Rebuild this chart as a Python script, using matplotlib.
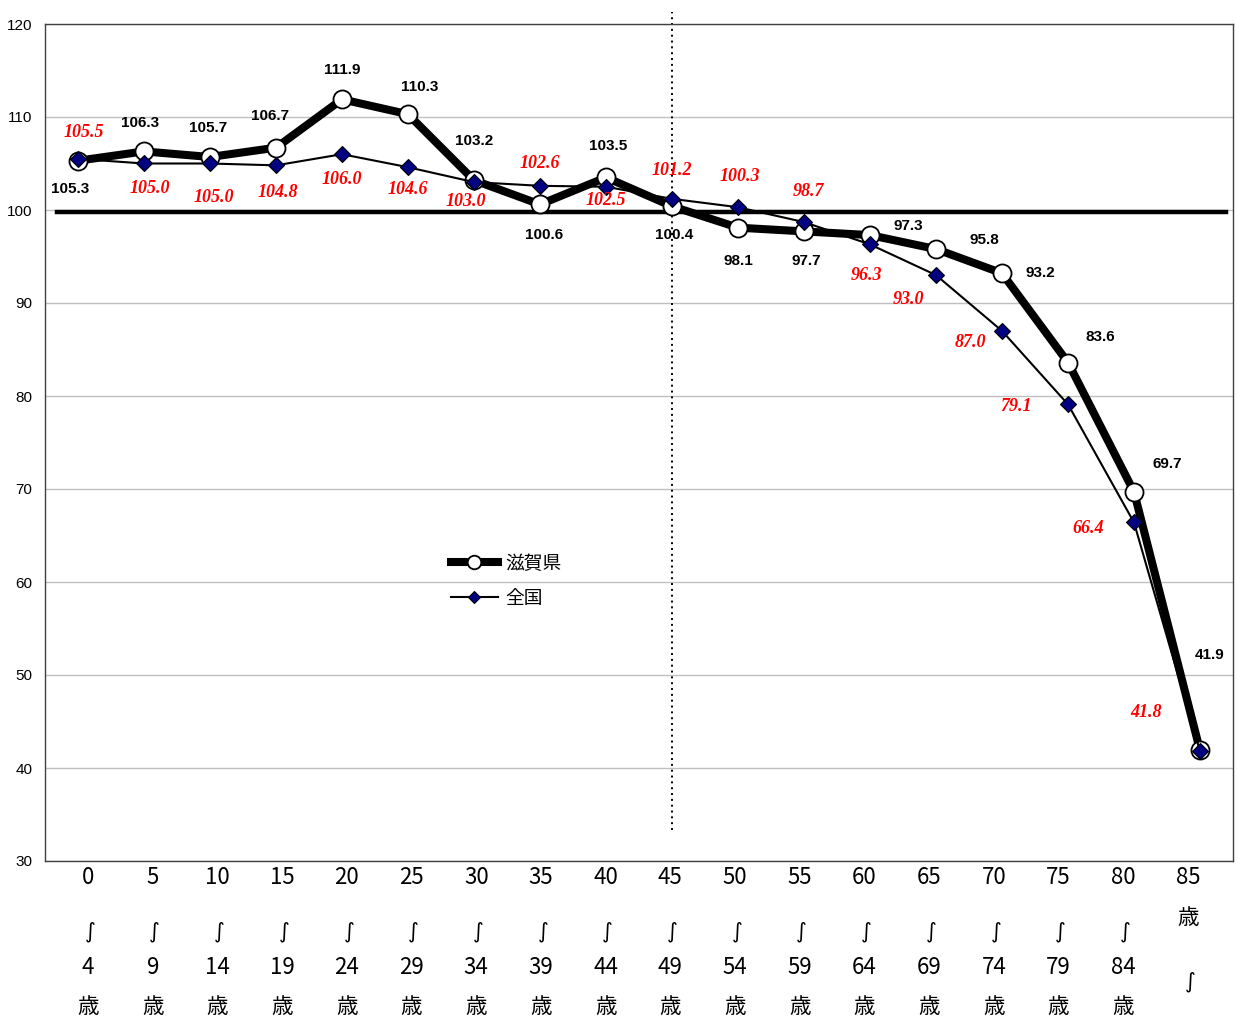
import numpy as np
import matplotlib
matplotlib.use("Agg")
import matplotlib.pyplot as plt

plt.rcParams['font.family'] = ['Liberation Sans', 'Noto Sans CJK JP']

age_start = ["0", "5", "10", "15", "20", "25", "30", "35", "40", "45",
             "50", "55", "60", "65", "70", "75", "80", "85"]
age_end = ["4", "9", "14", "19", "24", "29", "34", "39", "44", "49",
           "54", "59", "64", "69", "74", "79", "84", ""]
shiga = [105.3, 106.3, 105.7, 106.7, 111.9, 110.3, 103.2, 100.6, 103.5, 100.4,
         98.1, 97.7, 97.3, 95.8, 93.2, 83.6, 69.7, 41.9]
zenkoku = [105.5, 105.0, 105.0, 104.8, 106.0, 104.6, 103.0, 102.6, 102.5, 101.2,
           100.3, 98.7, 96.3, 93.0, 87.0, 79.1, 66.4, 41.8]

# label offsets in pixels (dx, dy), dy upward
shiga_off = [(-8, -28), (-4, 28), (-2, 29), (-6, 32), (0, 29), (12, 27), (0, 39), (4, -31),
             (2, 31), (2, -29), (0, -33), (2, -30), (38, 9), (48, 9), (38, 0), (32, 26),
             (33, 28), (10, 95)]
zen_off = [(6, 26), (6, -25), (4, -34), (2, -27), (0, -25), (0, -22), (-8, -19), (0, 22),
           (0, -14), (0, 28), (2, 31), (4, 31), (-4, -31), (-28, -24), (-32, -12),
           (-52, -2), (-46, -6), (-54, 39)]

fig = plt.figure(figsize=(12.38, 10.18), dpi=100)
ax = fig.add_axes([45 / 1238, 1 - 861 / 1018, 1188 / 1238, 837 / 1018])

x = np.arange(len(shiga))
ax.set_xlim(-0.5, len(shiga) - 0.5)
ax.set_ylim(30, 120)
ax.set_yticks(np.arange(30, 121, 10))
ax.set_xticks([])
ax.tick_params(axis='y', length=0, labelsize=11, pad=9)
ax.yaxis.grid(True, color='#c0c0c0', linewidth=1)
ax.set_axisbelow(True)
for s in ax.spines.values():
    s.set_color('#404040')
    s.set_linewidth(1)

# reference line and dotted divider
ax.plot([-0.32, 17.4], [99.75, 99.75], color='black', linewidth=3.2, zorder=2)
ax.plot([9, 9], [33.3, 121.3], color='black', linestyle=(0, (1, 2)), linewidth=1.4,
        clip_on=False, zorder=2)

ax.plot(x, shiga, color='black', linewidth=5.8, marker='o', markersize=13,
        markerfacecolor='white', markeredgecolor='black', markeredgewidth=1.3,
        label='滋賀県', zorder=3)
ax.plot(x, zenkoku, color='black', linewidth=1.5, marker='D', markersize=8,
        markerfacecolor='#000080', markeredgecolor='black', markeredgewidth=0.8,
        label='全国', zorder=4)

for i, v in enumerate(shiga):
    ax.annotate(f"{v:.1f}", (i, v), xytext=shiga_off[i], textcoords='offset pixels',
                ha='center', va='center', fontsize=11, fontweight='bold', zorder=5)
for i, v in enumerate(zenkoku):
    ax.annotate(f"{v:.1f}", (i, v), xytext=zen_off[i], textcoords='offset pixels',
                ha='center', va='center', fontsize=13, fontweight='bold',
                fontstyle='italic', color='red', family='Liberation Serif', zorder=5)

leg = ax.legend(loc='upper left', bbox_to_anchor=(0.329, 0.386), frameon=False,
                handlelength=2.5, handletextpad=0.4, labelspacing=0.75, markerscale=0.75,
                borderpad=0.3, prop={'family': ['Noto Sans CJK JP'], 'size': 13.5})


def yf(py):
    return (861 - py) / 837


tr = ax.get_xaxis_transform()
tick_font = dict(family=['Liberation Sans Narrow', 'Noto Sans CJK JP'], fontsize=16,
                 ha='center', va='center', transform=tr, clip_on=False)
wave = dict(tick_font, family='DejaVu Sans', fontsize=15)
sai = dict(tick_font, fontsize=15.5)
for i in range(len(age_start)):
    lx = (88 + i * 1100 / 17 - 78) / 66
    if age_end[i]:
        ax.text(lx, yf(878), age_start[i], **tick_font)
        ax.text(lx + 0.03, yf(932), '∫', **wave)
        ax.text(lx, yf(968), age_end[i], **tick_font)
        ax.text(lx, yf(1007), '歳', **sai)
    else:
        ax.text(lx, yf(878), age_start[i], **tick_font)
        ax.text(lx, yf(918), '歳', **sai)
        ax.text(lx + 0.03, yf(982), '∫', **wave)

fig.savefig('out.png', dpi=100)
